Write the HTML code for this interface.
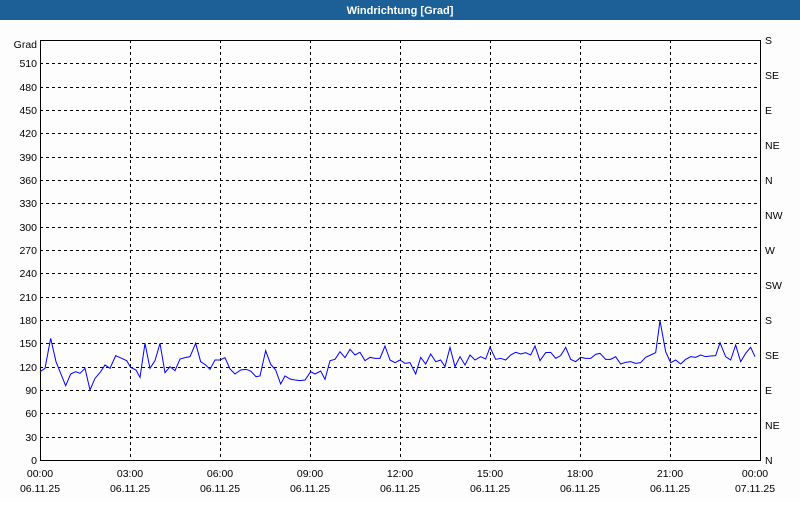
<!DOCTYPE html>
<html><head><meta charset="utf-8"><style>
body{margin:0;width:800px;height:500px;background:#fff;overflow:hidden;font-family:"Liberation Sans",sans-serif}
</style></head><body>
<svg width="800" height="500" xmlns="http://www.w3.org/2000/svg" font-family="Liberation Sans, sans-serif" font-size="10.5">
<rect x="0" y="0" width="800" height="20" fill="#1d6097"/>
<text x="400" y="14" fill="#fff" font-weight="bold" font-size="11" text-anchor="middle">Windrichtung [Grad]</text>
<rect x="0" y="20" width="800" height="480" fill="#fdfdfd"/>
<g stroke="#000" stroke-width="1" stroke-dasharray="3,3" shape-rendering="crispEdges">
<line x1="40" x2="760" y1="63.5" y2="63.5"/><line x1="40" x2="760" y1="87.5" y2="87.5"/><line x1="40" x2="760" y1="110.5" y2="110.5"/><line x1="40" x2="760" y1="133.5" y2="133.5"/><line x1="40" x2="760" y1="157.5" y2="157.5"/><line x1="40" x2="760" y1="180.5" y2="180.5"/><line x1="40" x2="760" y1="203.5" y2="203.5"/><line x1="40" x2="760" y1="227.5" y2="227.5"/><line x1="40" x2="760" y1="250.5" y2="250.5"/><line x1="40" x2="760" y1="273.5" y2="273.5"/><line x1="40" x2="760" y1="297.5" y2="297.5"/><line x1="40" x2="760" y1="320.5" y2="320.5"/><line x1="40" x2="760" y1="343.5" y2="343.5"/><line x1="40" x2="760" y1="367.5" y2="367.5"/><line x1="40" x2="760" y1="390.5" y2="390.5"/><line x1="40" x2="760" y1="413.5" y2="413.5"/><line x1="40" x2="760" y1="437.5" y2="437.5"/>
<line x1="130.5" x2="130.5" y1="40" y2="460"/><line x1="220.5" x2="220.5" y1="40" y2="460"/><line x1="310.5" x2="310.5" y1="40" y2="460"/><line x1="400.5" x2="400.5" y1="40" y2="460"/><line x1="490.5" x2="490.5" y1="40" y2="460"/><line x1="580.5" x2="580.5" y1="40" y2="460"/><line x1="670.5" x2="670.5" y1="40" y2="460"/>
</g>
<rect x="40.5" y="40.5" width="720" height="420" fill="none" stroke="#000" shape-rendering="crispEdges"/>
<g fill="#000" text-anchor="end">
<text x="37" y="48">Grad</text>
<text x="37" y="67">510</text><text x="37" y="91">480</text><text x="37" y="114">450</text><text x="37" y="137">420</text><text x="37" y="161">390</text><text x="37" y="184">360</text><text x="37" y="207">330</text><text x="37" y="231">300</text><text x="37" y="254">270</text><text x="37" y="277">240</text><text x="37" y="301">210</text><text x="37" y="324">180</text><text x="37" y="347">150</text><text x="37" y="371">120</text><text x="37" y="394">90</text><text x="37" y="417">60</text><text x="37" y="441">30</text><text x="37" y="464">0</text>
</g>
<g fill="#000">
<text x="765" y="44">S</text><text x="765" y="79">SE</text><text x="765" y="114">E</text><text x="765" y="149">NE</text><text x="765" y="184">N</text><text x="765" y="219">NW</text><text x="765" y="254">W</text><text x="765" y="289">SW</text><text x="765" y="324">S</text><text x="765" y="359">SE</text><text x="765" y="394">E</text><text x="765" y="429">NE</text><text x="765" y="464">N</text>
</g>
<g fill="#000" text-anchor="middle">
<text x="40" y="477">00:00</text><text x="130" y="477">03:00</text><text x="220" y="477">06:00</text><text x="310" y="477">09:00</text><text x="400" y="477">12:00</text><text x="490" y="477">15:00</text><text x="580" y="477">18:00</text><text x="670" y="477">21:00</text><text x="755" y="477">00:00</text>
<text x="40" y="492">06.11.25</text><text x="130" y="492">06.11.25</text><text x="220" y="492">06.11.25</text><text x="310" y="492">06.11.25</text><text x="400" y="492">06.11.25</text><text x="490" y="492">06.11.25</text><text x="580" y="492">06.11.25</text><text x="670" y="492">06.11.25</text><text x="755" y="492">07.11.25</text>
</g>
<g transform="translate(30 310) scale(0.33333)">
<polyline fill="none" stroke="#0000ff" stroke-width="1" vector-effect="non-scaling-stroke" points="30,185 45,175 62,85 78,155 92,190 107,227 122,192 137,185 150,190 165,175 180,240 195,205 212,185 225,165 240,175 257,137 275,145 290,152 302,172 318,180 330,202 345,100 360,175 375,152 390,100 405,188 420,170 435,182 450,147 465,143 480,140 497,100 512,155 527,165 540,178 555,150 570,150 585,143 600,177 615,192 632,180 648,178 662,183 678,200 690,198 707,122 722,163 737,180 752,222 765,198 780,207 795,210 810,212 825,210 842,185 855,192 872,183 885,208 900,152 915,148 930,125 945,143 960,118 975,135 990,127 1005,152 1020,142 1035,145 1050,145 1065,108 1080,150 1095,158 1110,150"/>
</g>
<g transform="translate(400 310) scale(0.33333)">
<polyline fill="none" stroke="#0000ff" stroke-width="1" vector-effect="non-scaling-stroke" points="0,150 15,160 30,158 47,192 62,142 77,162 92,132 107,155 122,150 135,170 150,112 165,170 180,140 195,165 210,135 225,150 242,140 257,147 270,112 287,148 302,145 317,150 332,135 347,127 362,132 377,128 392,135 405,108 420,152 437,128 452,127 467,145 482,137 497,112 512,148 527,155 542,142 557,145 572,145 587,133 600,130 617,148 632,148 647,140 662,162 677,157 692,155 707,160 722,158 737,142 752,135 767,128 780,32 797,125 812,158 827,150 842,162 857,148 872,140 887,142 902,135 917,140 932,138 947,137 960,98 977,140 992,150 1007,105 1022,155 1037,130 1052,112 1065,140"/>
</g>
</svg>
</body></html>
